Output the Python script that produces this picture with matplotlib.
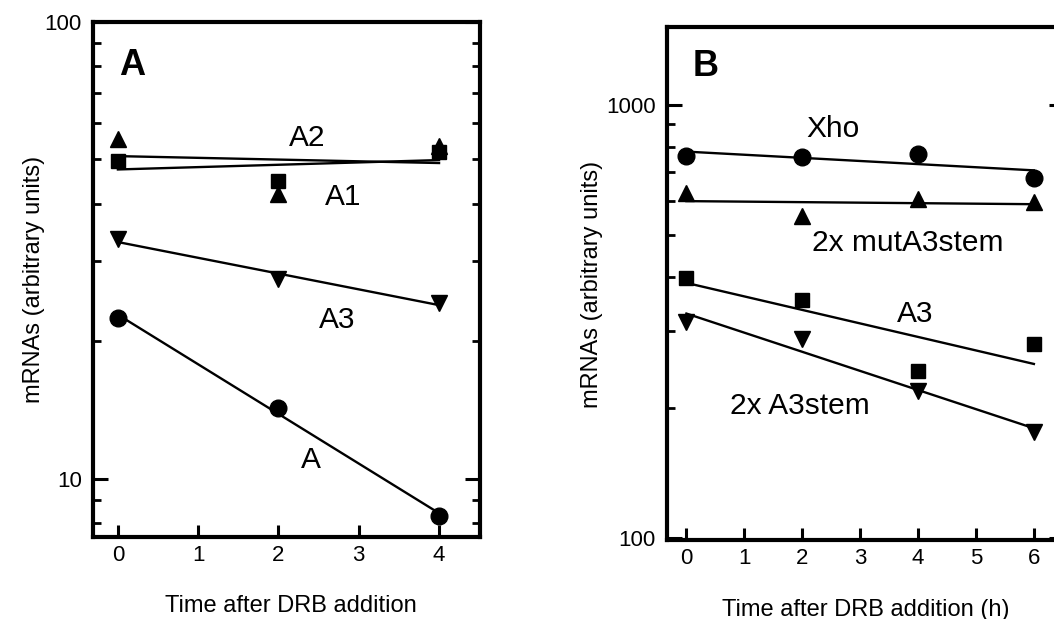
import numpy as np
import matplotlib
matplotlib.use("Agg")
import matplotlib.pyplot as plt
from matplotlib.ticker import LogLocator, NullFormatter, FuncFormatter, FixedLocator

plt.rcParams['font.family'] = ['Liberation Sans', 'DejaVu Sans']

# ---------------- data ----------------
time_a = [0, 2, 4]
a2_vals = [55.4, 42.1, 53.5]
a1_vals = [49.5, 44.9, 51.9]
a3_vals = [33.4, 27.4, 24.3]
a_vals = [22.5, 14.3, 8.27]
xticks_a = [0, 1, 2, 3, 4]

time_b = [0, 2, 4, 6]
xho_vals = [762, 759, 770, 679]
mut_vals = [625, 553, 607, 595]
a3b_vals = [398, 355, 243, 280]
stem_vals = [316, 288, 219, 176]
xticks_b = [0, 1, 2, 3, 4, 5, 6]

xlabel_a = "Time after DRB addition"
xlabel_b = "Time after DRB addition (h)"
ylabel = "mRNAs (arbitrary units)"


def fit(t, v):
    c = np.polyfit(t, np.log10(v), 1)
    tt = np.array([t[0], t[-1]], dtype=float)
    return tt, 10 ** np.polyval(c, tt)


fig = plt.figure(figsize=(10.54, 6.19), dpi=100)
W, H = 1054, 619
axA = fig.add_axes([93 / W, 1 - 537 / H, (480 - 93) / W, (537 - 22) / H])
axB = fig.add_axes([667 / W, 1 - 540 / H, (1064 - 667) / W, (540 - 27) / H])


def style(ax, xticks):
    ax.set_yscale('log')
    ax.xaxis.set_major_locator(FixedLocator(xticks))
    ax.yaxis.set_major_locator(LogLocator(base=10, numticks=10))
    ax.yaxis.set_minor_locator(LogLocator(base=10, subs=np.arange(2, 10), numticks=20))
    ax.yaxis.set_minor_formatter(NullFormatter())
    ax.yaxis.set_major_formatter(FuncFormatter(lambda v, p: f'{v:g}'))
    ax.tick_params(axis='both', which='both', direction='in', color='black')
    ax.tick_params(axis='y', which='major', length=11, width=2.2, left=True, right=True,
                   pad=8, labelsize=16)
    ax.tick_params(axis='y', which='minor', length=6, width=2.0, left=True, right=True)
    ax.tick_params(axis='x', which='major', length=9, width=2.2, top=False, pad=6,
                   labelsize=16)
    ax.tick_params(axis='x', which='minor', bottom=False, top=False)
    for s in ax.spines.values():
        s.set_linewidth(3)
        s.set_color('black')


mk = dict(color='black', linestyle='none')
lk = dict(color='black', linewidth=1.7)

# ---------------- panel A ----------------
for vals, m, ms in [(a2_vals, '^', 12), (a1_vals, 's', 10), (a3_vals, 'v', 12), (a_vals, 'o', 12)]:
    tt, ff = fit(time_a, vals)
    axA.plot(tt, ff, **lk)
    axA.plot(time_a, vals, marker=m, markersize=ms, **mk)

style(axA, xticks_a)
axA.set_xlim(-0.31, 4.51)
axA.set_ylim(7.45, 100)
axA.text(0.175, 80.5, "A", fontsize=26, fontweight='bold', ha='center', va='center')
axA.text(2.36, 55.7, "A2", fontsize=21.5, ha='center', va='center')
axA.text(2.81, 41.4, "A1", fontsize=21.5, ha='center', va='center')
axA.text(2.73, 22.3, "A3", fontsize=21.5, ha='center', va='center')
axA.text(2.40, 11.0, "A", fontsize=21.5, ha='center', va='center')
axA.set_xlabel(xlabel_a, fontsize=17, va='baseline')
axA.xaxis.set_label_coords(0.512, -0.1456)
axA.set_ylabel(ylabel, fontsize=17, va='center')
axA.yaxis.set_label_coords(-0.152, 0.501)

# ---------------- panel B ----------------
for vals, m, ms in [(xho_vals, 'o', 12), (mut_vals, '^', 12), (a3b_vals, 's', 10), (stem_vals, 'v', 12)]:
    tt, ff = fit(time_b, vals)
    axB.plot(tt, ff, **lk)
    axB.plot(time_b, vals, marker=m, markersize=ms, **mk)

style(axB, xticks_b)
axB.set_xlim(-0.335, 6.52)
axB.set_ylim(99.2, 1510)
axB.text(0.337, 1227, "B", fontsize=26, fontweight='bold', ha='center', va='center')
axB.text(2.53, 878, "Xho", fontsize=21.5, ha='center', va='center')
axB.text(3.83, 480, "2x mutA3stem", fontsize=21.5, ha='center', va='center')
axB.text(3.95, 330, "A3", fontsize=21.5, ha='center', va='center')
axB.text(1.96, 202, "2x A3stem", fontsize=21.5, ha='center', va='center')
axB.set_xlabel(xlabel_b, fontsize=17, va='baseline')
axB.xaxis.set_label_coords(0.500, -0.148)
axB.set_ylabel(ylabel, fontsize=17, va='center')
axB.yaxis.set_label_coords(-0.189, 0.499)

fig.savefig("out.png", dpi=100)
